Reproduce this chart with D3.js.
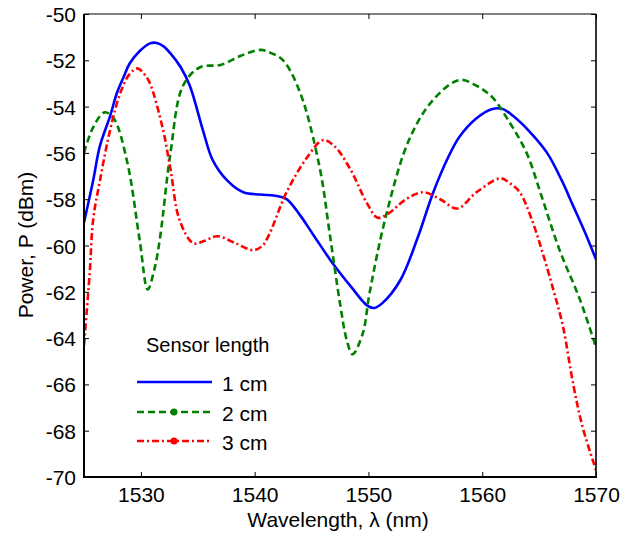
<!DOCTYPE html>
<html><head><meta charset="utf-8">
<script src="https://cdn.jsdelivr.net/npm/d3@7"></script>
<style>body{margin:0;background:#fff}svg{display:block}text{font-family:"Liberation Sans",Arial,sans-serif;fill:#000}</style>
</head><body><svg id="c" width="634" height="536"></svg>
<script>
const xTicks=[1530,1540,1550,1560,1570];
const yTicks=[-70,-68,-66,-64,-62,-60,-58,-56,-54,-52,-50];
const seriesNames=["1 cm","2 cm","3 cm"];
const blue=[[1525,-59.0],[1525.8,-57.2],[1526.4,-55.7],[1527.3,-54.4],[1527.9,-53.4],[1528.5,-52.7],[1529.0,-52.15],[1529.9,-51.6],[1530.8,-51.27],[1531.4,-51.25],[1532.0,-51.4],[1532.6,-51.7],[1533.5,-52.3],[1534.3,-53.1],[1535.5,-55.1],[1536.3,-56.3],[1537.6,-57.2],[1539.0,-57.7],[1540.5,-57.8],[1541.8,-57.85],[1542.8,-58.0],[1544.0,-58.7],[1545.1,-59.5],[1546.9,-60.8],[1548.5,-61.8],[1549.9,-62.6],[1550.5,-62.7],[1551.2,-62.5],[1552.8,-61.5],[1554.3,-59.7],[1555.7,-57.7],[1557.0,-56.2],[1558.0,-55.3],[1559.5,-54.5],[1560.9,-54.1],[1561.8,-54.1],[1562.7,-54.4],[1564.2,-55.1],[1565.7,-56.0],[1567.0,-57.2],[1568.0,-58.3],[1569.0,-59.4],[1570,-60.6]];
const green=[[1525,-56.0],[1525.8,-54.9],[1526.8,-54.25],[1527.6,-54.5],[1528.8,-56.4],[1529.9,-59.8],[1530.6,-61.9],[1531.2,-61.0],[1531.7,-59.6],[1532.6,-56.0],[1533.7,-53.1],[1535.2,-52.3],[1537.0,-52.2],[1538.8,-51.8],[1540.5,-51.55],[1541.5,-51.7],[1542.5,-52.0],[1544.0,-53.4],[1545.7,-56.6],[1546.6,-59.5],[1547.5,-62.5],[1548.1,-64.1],[1548.6,-64.7],[1549.5,-63.8],[1550.1,-62.05],[1551.6,-58.6],[1553.6,-55.4],[1555.7,-53.7],[1558.0,-52.85],[1559.5,-53.1],[1560.9,-53.6],[1562.3,-54.6],[1563.9,-56.0],[1565.3,-58.0],[1566.8,-60.2],[1568.6,-62.35],[1570,-64.4]];
const red=[[1525,-64.3],[1525.5,-61.2],[1525.8,-58.9],[1526.4,-57.2],[1527.3,-55.0],[1528.2,-53.4],[1529.0,-52.6],[1529.7,-52.35],[1530.3,-52.6],[1530.8,-53.0],[1531.9,-54.9],[1532.6,-56.7],[1533.4,-58.9],[1534.6,-59.9],[1535.6,-59.8],[1536.7,-59.6],[1538.3,-59.9],[1539.9,-60.2],[1540.7,-60.0],[1541.3,-59.5],[1542.8,-57.7],[1544.6,-56.2],[1546.0,-55.45],[1547.0,-55.7],[1548.4,-56.7],[1549.9,-58.2],[1550.8,-58.8],[1551.8,-58.6],[1553.3,-58.0],[1554.8,-57.7],[1556.3,-58.0],[1557.8,-58.4],[1559.5,-57.7],[1561.6,-57.1],[1562.4,-57.3],[1563.3,-57.7],[1564.3,-58.8],[1565.3,-60.3],[1566.3,-62.0],[1567.1,-63.5],[1568.0,-66.0],[1568.8,-67.8],[1570,-69.7]];

const L=84,R=596,T=14,B=477;
const svg=d3.select("#c");
const x=d3.scaleLinear().domain([1525,1570]).range([L,R]);
const y=d3.scaleLinear().domain([-70,-50]).range([B,T]);
const FS=21;

svg.append("defs").append("clipPath").attr("id","cp").append("rect").attr("x",L).attr("y",T-2).attr("width",R-L).attr("height",B-T+4);

const styles=[
 {data:blue,color:"#0000ff",dash:null,marker:false},
 {data:green,color:"#008000",dash:"7,4",marker:true},
 {data:red,color:"#ff0000",dash:"7,3,2,3",marker:true}
];
const line=d3.line().x(d=>x(d[0])).y(d=>y(d[1])).curve(d3.curveCatmullRom.alpha(0.5));
const g=svg.append("g").attr("clip-path","url(#cp)");
styles.forEach(s=>{
  g.append("path").attr("d",line(s.data)).attr("fill","none").attr("stroke",s.color)
   .attr("stroke-width",2.6).attr("stroke-dasharray",s.dash);
});

const fmt=d=>String(d);
const ax=svg.append("g");
ax.append("g").attr("transform",`translate(0,${B})`).call(d3.axisBottom(x).tickValues(xTicks).tickSize(-5).tickFormat(fmt))
  .call(a=>{a.select(".domain").remove();a.selectAll("line").attr("stroke","#000");a.selectAll("text").attr("font-size",FS).attr("font-family","Liberation Sans, Arial").attr("y",25).attr("dy",0);});
ax.append("g").attr("transform",`translate(0,${T})`).call(d3.axisTop(x).tickValues(xTicks).tickSize(-5).tickFormat(""))
  .call(a=>{a.select(".domain").remove();a.selectAll("line").attr("stroke","#000");});
ax.append("g").attr("transform",`translate(${L},0)`).call(d3.axisLeft(y).tickValues(yTicks).tickSize(-5).tickFormat(fmt))
  .call(a=>{a.select(".domain").remove();a.selectAll("line").attr("stroke","#000");a.selectAll("text").attr("font-size",FS).attr("font-family","Liberation Sans, Arial").attr("x",-8).attr("dy","0.36em");});
ax.append("g").attr("transform",`translate(${R},0)`).call(d3.axisRight(y).tickValues(yTicks).tickSize(-5).tickFormat(""))
  .call(a=>{a.select(".domain").remove();a.selectAll("line").attr("stroke","#000");});
svg.append("line").attr("x1",L).attr("x2",R).attr("y1",T).attr("y2",T).attr("stroke","#000").attr("stroke-width",1.2);
svg.append("line").attr("x1",R).attr("x2",R).attr("y1",T).attr("y2",B).attr("stroke","#000").attr("stroke-width",1.6);
svg.append("line").attr("x1",L).attr("x2",L).attr("y1",T).attr("y2",B+1).attr("stroke","#000").attr("stroke-width",2);
svg.append("line").attr("x1",L-1).attr("x2",R+1).attr("y1",B).attr("y2",B).attr("stroke","#000").attr("stroke-width",2);

svg.append("text").attr("x",(L+R)/2-2).attr("y",527).attr("text-anchor","middle").attr("font-size",FS).text("Wavelength, λ (nm)");
svg.append("text").attr("transform",`translate(33,${245}) rotate(-90)`).attr("text-anchor","middle").attr("font-size",FS).text("Power, P (dBm)");

const lg=svg.append("g");
lg.append("text").attr("x",146).attr("y",352).attr("font-size",FS-1).text("Sensor length");
const ly=[382,412,441];
styles.forEach((s,i)=>{
  lg.append("line").attr("x1",137).attr("x2",212).attr("y1",ly[i]).attr("y2",ly[i]).attr("stroke",s.color).attr("stroke-width",2.6).attr("stroke-dasharray",s.dash);
  if(s.marker) lg.append("circle").attr("cx",174).attr("cy",ly[i]).attr("r",3.5).attr("fill",s.color);
  lg.append("text").attr("x",222).attr("y",ly[i]+9).attr("font-size",FS).text(seriesNames[i]);
});
</script></body></html>
